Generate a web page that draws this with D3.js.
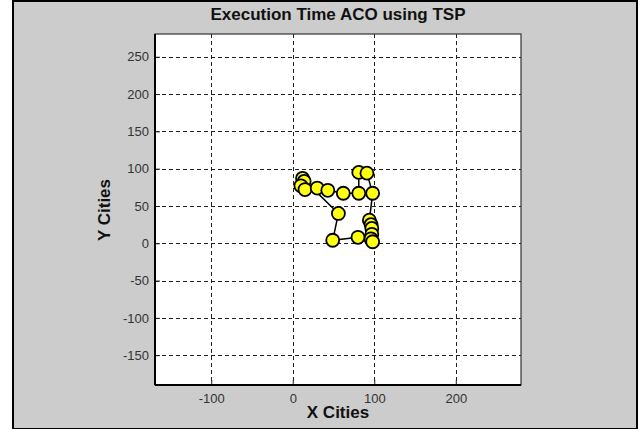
<!DOCTYPE html>
<html>
<head>
<meta charset="utf-8">
<script src="https://cdn.jsdelivr.net/npm/d3@7"></script>
<style>
  body { margin: 0; background: #fff; }
  svg { display: block; font-family: Arial, "Liberation Sans", sans-serif; }
</style>
</head>
<body>
<svg id="chart" width="643" height="429"></svg>
<script>
// tour of cities, in visiting order (closed loop)
const cityX = [12, 14, 10, 15, 30, 43, 62, 81, 81, 91, 98, 94, 96, 97, 97, 96, 98, 80, 49, 56];
const cityY = [87, 83, 77, 72, 74, 71, 67, 67, 95, 94, 67, 31, 25, 20, 12, 6, 2, 8, 4, 40];
const xTicks = [-100, 0, 100, 200];
const yTicks = [-150, -100, -50, 0, 50, 100, 150, 200, 250];

const svg = d3.select('#chart');
const plot = { left: 155, right: 521, top: 34, bottom: 385 };

// figure background
svg.append('rect').attr('x', 13).attr('y', 1).attr('width', 624).attr('height', 428)
  .attr('fill', '#cccccc').attr('stroke', '#000').attr('stroke-width', 2);

const x = d3.scaleLinear().domain([-169, 280]).range([plot.left, plot.right]);
const y = d3.scaleLinear().domain([-190, 280.5]).range([plot.bottom, plot.top]);

svg.append('rect')
  .attr('x', plot.left).attr('y', plot.top)
  .attr('width', plot.right - plot.left).attr('height', plot.bottom - plot.top)
  .attr('fill', '#fff');

// grid
const grid = svg.append('g').attr('stroke', '#222').attr('stroke-width', 1).attr('stroke-dasharray', '4,3');
grid.selectAll('.gx').data(xTicks).enter().append('line')
  .attr('x1', d => Math.round(x(d)) + 0.5).attr('x2', d => Math.round(x(d)) + 0.5)
  .attr('y1', plot.top).attr('y2', plot.bottom);
grid.selectAll('.gy').data(yTicks).enter().append('line')
  .attr('y1', d => Math.round(y(d)) + 0.5).attr('y2', d => Math.round(y(d)) + 0.5)
  .attr('x1', plot.left).attr('x2', plot.right);

// axes
const xAxis = svg.append('g').attr('transform', `translate(0,${plot.bottom})`)
  .call(d3.axisBottom(x).tickValues(xTicks).tickSize(-5).tickPadding(9).tickFormat(d => String(d)));
const yAxis = svg.append('g').attr('transform', `translate(${plot.left},0)`)
  .call(d3.axisLeft(y).tickValues(yTicks).tickSize(-5).tickPadding(6).tickFormat(d => String(d)));
[xAxis, yAxis].forEach(a => {
  a.select('.domain').remove();
  a.selectAll('.tick line').attr('stroke', '#222');
  a.selectAll('.tick text').attr('fill', '#333').style('font-size', '13px').style('font-family', 'Arial, "Liberation Sans", sans-serif');
});

// box
svg.append('rect')
  .attr('x', plot.left).attr('y', plot.top)
  .attr('width', plot.right - plot.left).attr('height', plot.bottom - plot.top)
  .attr('fill', 'none').attr('stroke', '#333').attr('stroke-width', 1.2);
svg.append('line').attr('x1', plot.left).attr('x2', plot.right).attr('y1', plot.bottom).attr('y2', plot.bottom)
  .attr('stroke', '#000').attr('stroke-width', 2);
svg.append('line').attr('x1', plot.left).attr('x2', plot.left).attr('y1', plot.top).attr('y2', plot.bottom)
  .attr('stroke', '#000').attr('stroke-width', 2);

// tour
const pts = cityX.map((d, i) => [d, cityY[i]]);
const line = d3.line().x(d => x(d[0])).y(d => y(d[1]));
svg.append('path').datum(pts.concat([pts[0]]))
  .attr('d', line).attr('fill', 'none').attr('stroke', '#000').attr('stroke-width', 1.5);

svg.append('g').selectAll('circle').data(pts).enter().append('circle')
  .attr('cx', d => x(d[0])).attr('cy', d => y(d[1])).attr('r', 6.5)
  .attr('fill', '#ffff10').attr('stroke', '#000').attr('stroke-width', 1.8);

// titles
svg.append('text').attr('x', 338).attr('y', 20).attr('text-anchor', 'middle')
  .style('font-size', '17px').style('font-weight', 'bold').attr('fill', '#111')
  .text('Execution Time ACO using TSP');
svg.append('text').attr('x', 338).attr('y', 418).attr('text-anchor', 'middle')
  .style('font-size', '17px').style('font-weight', 'bold').attr('fill', '#111')
  .text('X Cities');
svg.append('text').attr('transform', 'translate(110,210) rotate(-90)').attr('text-anchor', 'middle')
  .style('font-size', '17px').style('font-weight', 'bold').attr('fill', '#111')
  .text('Y Cities');
</script>
</body>
</html>
